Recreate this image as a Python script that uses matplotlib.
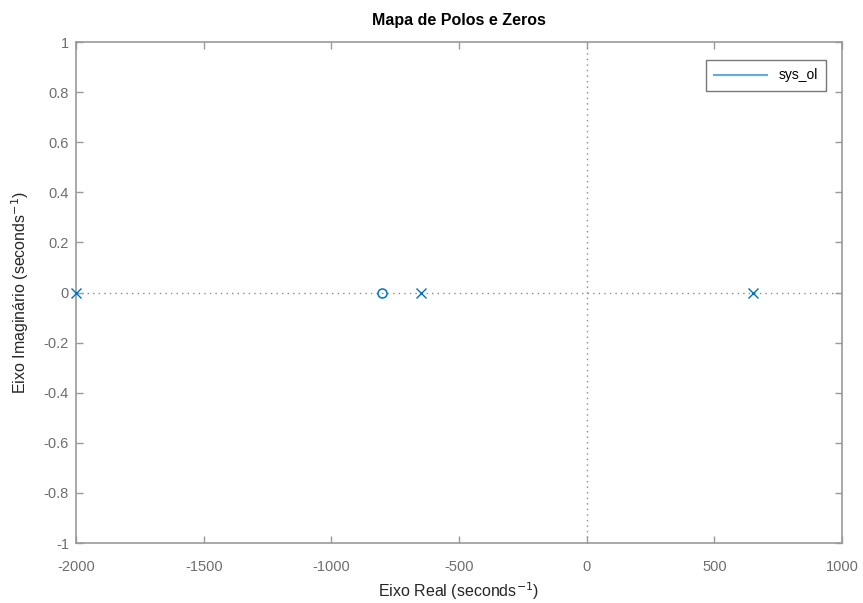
import matplotlib
matplotlib.use("Agg")
import matplotlib.pyplot as plt
from matplotlib.lines import Line2D

plt.rcParams['font.family'] = ['Liberation Sans', 'DejaVu Sans']

poles_re = [-2000, -650, 650]
poles_im = [0, 0, 0]
zeros_re = [-800]
zeros_im = [0]
xlim = (-2000, 1000)
ylim = (-1, 1)
xticks = [-2000, -1500, -1000, -500, 0, 500, 1000]
yticks = [-1, -0.8, -0.6, -0.4, -0.2, 0, 0.2, 0.4, 0.6, 0.8, 1]
ytick_labels = ['-1', '-0.8', '-0.6', '-0.4', '-0.2', '0', '0.2', '0.4', '0.6', '0.8', '1']
series_name = 'sys_ol'

blue = '#0072BD'
gray = '#8a8a8a'

fig = plt.figure(figsize=(8.63, 6.03), dpi=100)
ax = fig.add_axes([0.0881, 0.0995, 0.8876, 0.8308])

ax.axhline(0, color=gray, linestyle=(0, (1, 3)), linewidth=1.0, zorder=1)
ax.axvline(0, color=gray, linestyle=(0, (1, 3)), linewidth=1.0, zorder=1)

ax.plot(poles_re, poles_im, linestyle='none', marker='x', color=blue,
        markersize=6.5, markeredgewidth=1.0, zorder=3, clip_on=False)
ax.plot(zeros_re, zeros_im, linestyle='none', marker='o', markerfacecolor='none',
        markeredgecolor=blue, markersize=6.5, markeredgewidth=1.1, zorder=3)

ax.set_xlim(*xlim)
ax.set_ylim(*ylim)
ax.set_xticks(xticks)
ax.set_xticklabels([str(t) for t in xticks])
ax.set_yticks(yticks)
ax.set_yticklabels(ytick_labels)

for s in ax.spines.values():
    s.set_color('#999999')
    s.set_linewidth(1.2)
ax.tick_params(direction='in', length=5, width=1.0, colors='#999999',
               labelcolor='#6e6e6e', labelsize=10.5, top=True, right=True)
ax.tick_params(axis='x', pad=12)
ax.tick_params(axis='y', pad=5)

ax.set_xlabel('Eixo Real (seconds$^{-1}$)', fontsize=11.5, color='#262626', labelpad=5)
ax.set_ylabel('Eixo Imaginário (seconds$^{-1}$)', fontsize=11.5, color='#262626', labelpad=9)
ax.set_title('Mapa de Polos e Zeros', fontsize=11.5, fontweight='bold', color='#000000', pad=12)

handle = Line2D([], [], color='#5DADE2', linewidth=1.5)
leg = ax.legend([handle], [series_name], loc='upper right', fontsize=10,
                frameon=True, fancybox=False, handlelength=3.8,
                borderpad=0.6, borderaxespad=0, handletextpad=0.8,
                bbox_to_anchor=(0.979, 0.964))
leg.get_frame().set_edgecolor('#555555')
leg.get_frame().set_linewidth(1.0)

fig.savefig('out.png', dpi=100, facecolor='white')
